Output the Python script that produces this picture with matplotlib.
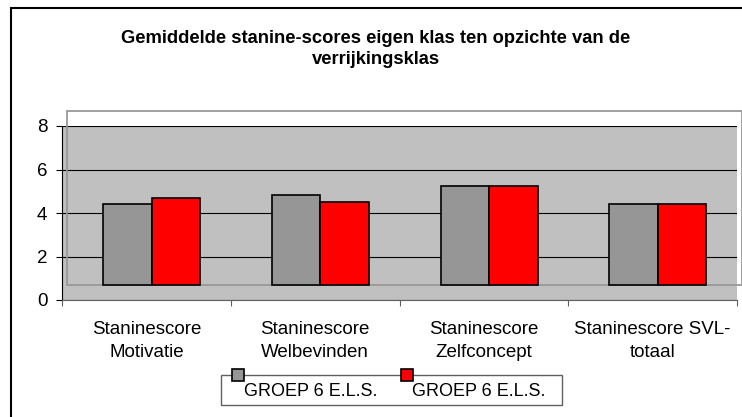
import matplotlib
matplotlib.use("Agg")
import matplotlib.pyplot as plt
from matplotlib.patches import Rectangle

categories = ["Staninescore\nMotivatie", "Staninescore\nWelbevinden",
              "Staninescore\nZelfconcept", "Staninescore SVL-\ntotaal"]
eigen_klas = [4.41, 4.83, 5.24, 4.41]
verrijkingsklas = [4.69, 4.52, 5.24, 4.41]
series_labels = ["GROEP 6 E.L.S.", "GROEP 6 E.L.S."]
yticks = [0, 2, 4, 6, 8]
title = "Gemiddelde stanine-scores eigen klas ten opzichte van de\nverrijkingsklas"

floor = 0.7  # pseudo-3D floor of the Excel chart
colors = ["#969696", "#FF0000"]

plt.rcParams['font.family'] = ['Liberation Sans', 'DejaVu Sans']

W, H = 742, 417
fig = plt.figure(figsize=(W / 100, H / 100), dpi=100)


def fx(px):
    return px / W


def fy(py):
    return 1 - py / H


# outer chart frame (runs off the right/bottom edge)
fig.patches.append(Rectangle((fx(11), fy(430)), 1.0, fy(8) - fy(430),
                             transform=fig.transFigure, fill=False,
                             ec="black", lw=1.5))

ax = fig.add_axes([fx(62), fy(300), fx(737) - fx(62), fy(126) - fy(300)])
ax.set_facecolor("#C0C0C0")
ax.set_xlim(0, len(categories))
ax.set_ylim(0, 8)

ax.set_yticks(yticks)
ax.yaxis.grid(True, color="black", lw=0.8)
ax.set_axisbelow(True)

ax.set_xticks(range(len(categories) + 1))
ax.set_xticklabels([])
ax.set_xticks([i + 0.5 for i in range(len(categories))], minor=True)
ax.set_xticklabels(categories, minor=True, fontsize=13.5, linespacing=1.45)
ax.tick_params(axis="x", which="major", length=4, direction="out", color="#606060")
ax.tick_params(axis="x", which="minor", length=0, pad=15)
ax.tick_params(axis="y", length=4, direction="out", pad=6.5, labelsize=13.5)

for s in ["top", "right"]:
    ax.spines[s].set_visible(False)
ax.spines["left"].set_color("black")
ax.spines["bottom"].set_color("#606060")

# back wall of the 3D box
ax.add_patch(Rectangle((0.03, floor), 4.0, 8.69 - floor, fill=False,
                       ec="#999999", lw=1.3, clip_on=False, zorder=2))

bw = 0.288
x0 = [i + 0.243 for i in range(len(categories))]
for k, vals in enumerate([eigen_klas, verrijkingsklas]):
    xs = [x + k * bw for x in x0]
    ax.bar(xs, [v - floor for v in vals], bottom=floor, width=bw, align="edge",
           color=colors[k], edgecolor="black", lw=1.2, zorder=3)

fig.text(fx(376), fy(49), title, ha="center", va="center",
         fontsize=13.2, fontweight="bold", linespacing=1.35)

# legend, Excel style: small squares sitting on the box top edge
fig.patches.append(Rectangle((fx(221), fy(405)), fx(562) - fx(221), fy(375) - fy(405),
                             transform=fig.transFigure, fc="white", ec="#606060", lw=1))
for px, tx, c, lab in [(232, 244, colors[0], series_labels[0]),
                       (401, 412, colors[1], series_labels[1])]:
    fig.patches.append(Rectangle((fx(px), fy(381)), fx(12), fy(369) - fy(381),
                                 transform=fig.transFigure, fc=c, ec="black", lw=1.2))
    fig.text(fx(tx), fy(391), lab, ha="left", va="center", fontsize=13)

fig.savefig("out.png", dpi=100)
